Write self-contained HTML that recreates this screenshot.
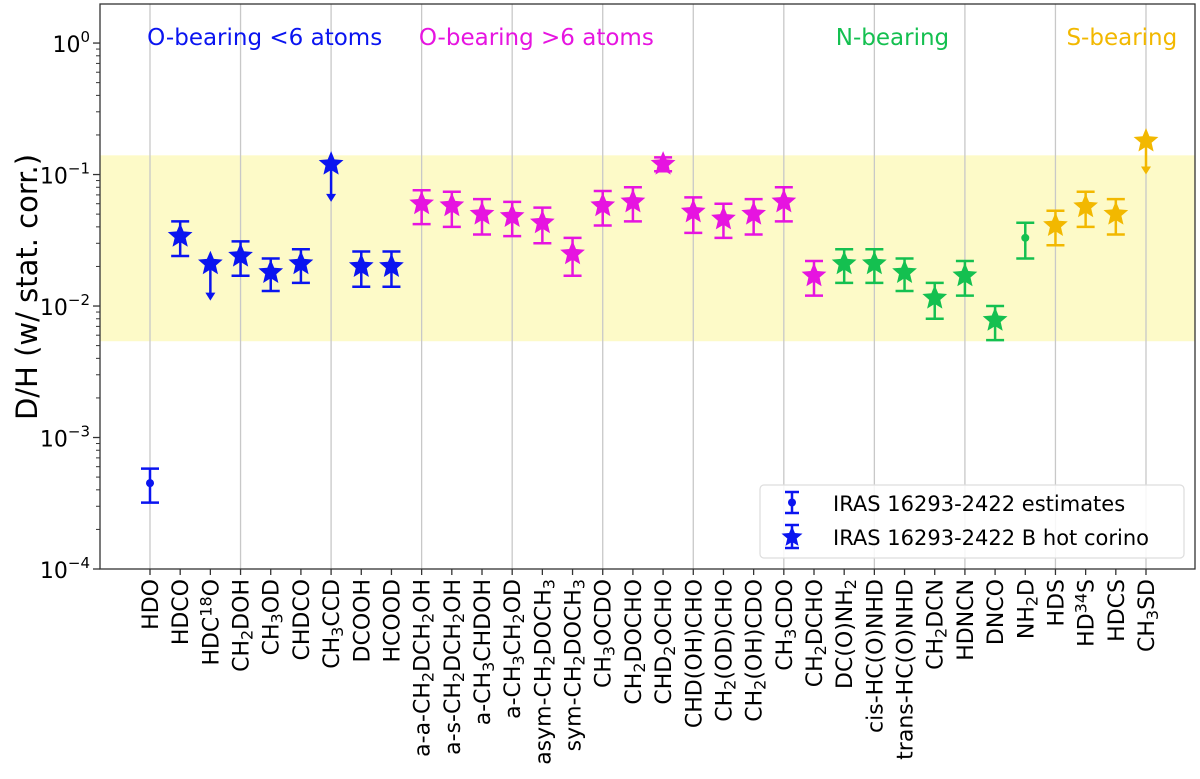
<!DOCTYPE html>
<html><head><meta charset="utf-8"><style>
body{margin:0;background:#fff;}
svg{display:block;font-family:"DejaVu Sans","Liberation Sans",sans-serif;}
</style></head><body>
<svg id="chart" width="1200" height="779" viewBox="0 0 1200 779" xmlns="http://www.w3.org/2000/svg"></svg>
<script>
const categories=["HDO","HDCO","HDC^{18}O","CH_2DOH","CH_3OD","CHDCO","CH_3CCD","DCOOH","HCOOD","a-a-CH_2DCH_2OH","a-s-CH_2DCH_2OH","a-CH_3CHDOH","a-CH_3CH_2OD","asym-CH_2DOCH_3","sym-CH_2DOCH_3","CH_3OCDO","CH_2DOCHO","CHD_2OCHO","CHD(OH)CHO","CH_2(OD)CHO","CH_2(OH)CDO","CH_3CDO","CH_2DCHO","DC(O)NH_2","cis-HC(O)NHD","trans-HC(O)NHD","CH_2DCN","HDNCN","DNCO","NH_2D","HDS","HD^{34}S","HDCS","CH_3SD"];
const values=[0.00045,0.034,0.021,0.024,0.018,0.021,0.12,0.02,0.02,0.06,0.058,0.05,0.048,0.043,0.025,0.058,0.062,0.12,0.052,0.046,0.05,0.062,0.017,0.021,0.021,0.018,0.0115,0.017,0.0078,0.033,0.041,0.057,0.05,0.18];
const errLow=[0.00032,0.024,0.011,0.017,0.013,0.015,0.062,0.014,0.014,0.042,0.04,0.035,0.034,0.03,0.017,0.041,0.044,0.106,0.036,0.033,0.035,0.044,0.012,0.015,0.015,0.013,0.008,0.012,0.0055,0.023,0.029,0.04,0.035,0.1];
const errHigh=[0.00058,0.044,null,0.031,0.023,0.027,null,0.026,0.026,0.076,0.074,0.065,0.062,0.056,0.033,0.075,0.08,0.135,0.067,0.06,0.065,0.08,0.022,0.027,0.027,0.023,0.015,0.022,0.01,0.043,0.053,0.074,0.065,null];
const upperLimit=[0,0,1,0,0,0,1,0,0,0,0,0,0,0,0,0,0,0,0,0,0,0,0,0,0,0,0,0,0,0,0,0,0,1];
const markerType=["o","*","*","*","*","*","*","*","*","*","*","*","*","*","*","*","*","*","*","*","*","*","*","*","*","*","*","*","*","o","*","*","*","*"];
const groupIdx=[0,0,0,0,0,0,0,0,0,1,1,1,1,1,1,1,1,1,1,1,1,1,1,2,2,2,2,2,2,2,3,3,3,3];
const groupNames=["O-bearing <6 atoms","O-bearing >6 atoms","N-bearing","S-bearing"];
const groupColors=["#0a14f0","#e614e0","#14c050","#f2b800"];
const groupLabelPos=[3.8,12.8,24.6,32.2];
const yTicks=[-4,-3,-2,-1,0];
const band=[0.0054,0.14];

const NS="http://www.w3.org/2000/svg";
const svg=document.getElementById('chart');
const L=100,R=1195,T=4,B=569;
const yMinLog=-4,yMaxLog=0.297;
function X(i){return 150+i*(1146-150)/(categories.length-1);}
function Y(v){return B-(Math.log10(v)-yMinLog)/(yMaxLog-yMinLog)*(B-T);}
function el(tag,attrs,parent){const e=document.createElementNS(NS,tag);for(const k in attrs)e.setAttribute(k,attrs[k]);(parent||svg).appendChild(e);return e;}
function richText(t,str,small){
  const re=/([_^])\{?([0-9]+)\}?|([^_^]+)/g;let m;
  while((m=re.exec(str))){
    if(m[3]){const s=el('tspan',{},t);s.textContent=m[3];}
    else{const s=el('tspan',{'font-size':small,'baseline-shift':m[1]==='_'?'-25%':'45%'},t);s.textContent=m[2];}
  }
}
const bandR=el('rect',{x:L,y:Y(band[1]),width:R-L,height:Y(band[0])-Y(band[1]),fill:'#fdfac8'});


for(let i=0;i<categories.length;i+=3){
  const g=el('line',{x1:X(i),x2:X(i),y1:T,y2:B,stroke:'#c8c8c8','stroke-width':1.3});
  
  
}
const fr=el('rect',{x:L,y:T,width:R-L,height:B-T,fill:'none',stroke:'#333','stroke-width':1.3});


yTicks.forEach(p=>{
  const y=Y(Math.pow(10,p));
  el('line',{x1:L-7,x2:L,y1:y,y2:y,stroke:'#333','stroke-width':1.3});
  const t=el('text',{x:L-10,y:y+9,'text-anchor':'end','font-size':22,fill:'#000'});
  
  
  const a=el('tspan',{},t);a.textContent='10';
  const b=el('tspan',{'font-size':15,dy:-10},t);b.textContent=(p<0?'\u2212'+(-p):''+p);
  for(let k=2;k<10;k++){const v=k*Math.pow(10,p);if(Math.log10(v)>yMaxLog)break;const yy=Y(v);el('line',{x1:L-4,x2:L,y1:yy,y2:yy,stroke:'#333','stroke-width':1});}
});
const yl=el('text',{x:0,y:0,transform:'translate(37,287) rotate(-90)','text-anchor':'middle','font-size':29,fill:'#000'});
yl.textContent='D/H (w/ stat. corr.)';


categories.forEach((c,i)=>{
  el('line',{x1:X(i),x2:X(i),y1:B,y2:B+6,stroke:'#333','stroke-width':1.3});
  const t=el('text',{x:0,y:0,transform:`translate(${X(i)+8},${B+10}) rotate(-90)`,'text-anchor':'end','font-size':22,fill:'#000'});
  
  
  richText(t,c,16);
});
groupNames.forEach((g,i)=>{
  const t=el('text',{x:X(groupLabelPos[i]),y:45,'text-anchor':'middle','font-size':23,fill:groupColors[i]});
  t.textContent=g;
  
  
});
function star(cx,cy,r,col,parent){
  let pts=[];for(let k=0;k<10;k++){const a=-Math.PI/2+k*Math.PI/5;const rr=k%2?r*0.45:r;pts.push((cx+rr*Math.cos(a)).toFixed(1)+','+(cy+rr*Math.sin(a)).toFixed(1));}
  return el('polygon',{points:pts.join(' '),fill:col},parent);
}
values.forEach((v,i)=>{
  const col=groupColors[groupIdx[i]];const x=X(i);
  const g=el('g',{});
  
  
  if(upperLimit[i]){
    const y2=Y(errLow[i]);
    el('line',{x1:x,x2:x,y1:Y(v),y2:y2-6,stroke:col,'stroke-width':2.5},g);
    el('polygon',{points:`${x-5},${y2-8} ${x+5},${y2-8} ${x},${y2}`,fill:col},g);
  }else{
    const y1=Y(errHigh[i]),y2=Y(errLow[i]);
    el('line',{x1:x,x2:x,y1:y1,y2:y2,stroke:col,'stroke-width':2.5},g);
    el('line',{x1:x-9,x2:x+9,y1:y1,y2:y1,stroke:col,'stroke-width':2.5},g);
    el('line',{x1:x-9,x2:x+9,y1:y2,y2:y2,stroke:col,'stroke-width':2.5},g);
  }
  if(markerType[i]==='o')el('circle',{cx:x,cy:Y(v),r:4,fill:col},g);
  else star(x,Y(v),13,col,g);
});
const lg=el('g',{});


el('rect',{x:760,y:485,width:424,height:73,rx:4,fill:'#fff','fill-opacity':0.85,stroke:'#ddd','stroke-width':1.2},lg);
const lx=792;
el('line',{x1:lx,x2:lx,y1:492,y2:513,stroke:groupColors[0],'stroke-width':2.5},lg);
el('line',{x1:lx-7,x2:lx+7,y1:492,y2:492,stroke:groupColors[0],'stroke-width':2.5},lg);
el('line',{x1:lx-7,x2:lx+7,y1:513,y2:513,stroke:groupColors[0],'stroke-width':2.5},lg);
el('circle',{cx:lx,cy:502.5,r:4,fill:groupColors[0]},lg);
el('line',{x1:lx,x2:lx,y1:525,y2:548,stroke:groupColors[0],'stroke-width':2.5},lg);
el('line',{x1:lx-7,x2:lx+7,y1:525,y2:525,stroke:groupColors[0],'stroke-width':2.5},lg);
el('line',{x1:lx-7,x2:lx+7,y1:548,y2:548,stroke:groupColors[0],'stroke-width':2.5},lg);
star(lx,537,11,groupColors[0],lg);
const t1=el('text',{x:833,y:511,'font-size':21,fill:'#000'},lg);t1.textContent='IRAS 16293-2422 estimates';


const t2=el('text',{x:833,y:545,'font-size':21,fill:'#000'},lg);t2.textContent='IRAS 16293-2422 B hot corino';


</script>
</body></html>
